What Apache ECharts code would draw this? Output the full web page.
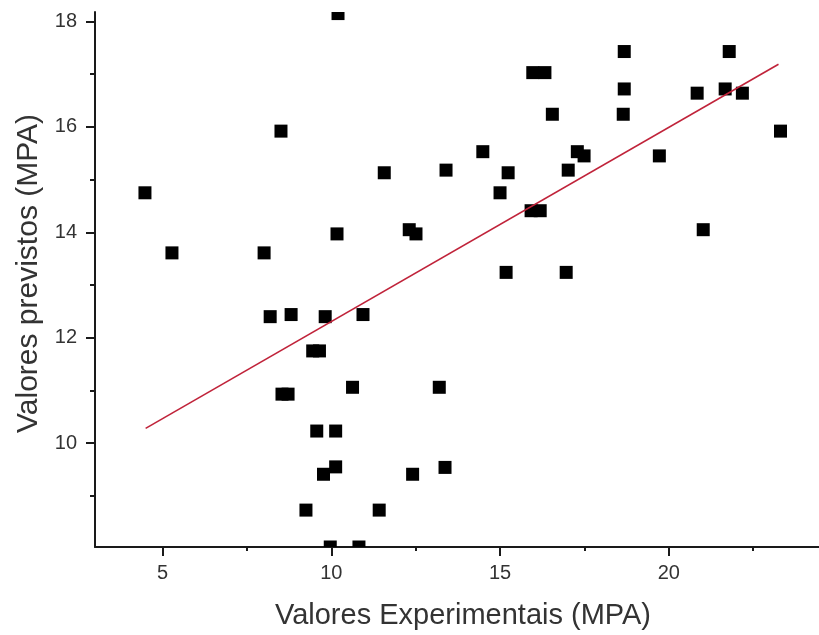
<!DOCTYPE html>
<meta charset="utf-8">
<style>
html, body { margin: 0; padding: 0; background: #fff; }
#container { width: 819px; height: 635px; }
</style>
<body>
<div id="container"></div>
<script src="https://cdn.jsdelivr.net/npm/echarts@6/dist/echarts.min.js"></script>
<script>

var expX = [4.48, 5.28, 8.01, 8.51, 10.17, 11.57, 10.2, 8.19, 8.81, 9.82, 10.94,
  9.45, 9.65, 10.63, 8.54, 8.72, 9.57, 10.13, 10.13, 9.77, 12.41, 9.25, 11.42,
  9.97, 10.82, 13.2, 13.37, 12.31, 12.51, 13.4, 14.49, 15.0, 15.24, 15.92, 16.19,
  15.18, 16.96, 17.02, 17.29, 17.49, 19.72, 16.55, 18.65, 18.68, 15.97, 16.33,
  18.68, 20.84, 21.67, 22.18, 21.79, 23.31, 21.02];
var prevY = [14.75, 13.61, 13.61, 15.92, 13.97, 15.13, 18.15, 12.40, 12.44, 12.40, 12.44,
  11.75, 11.75, 11.06, 10.93, 10.93, 10.23, 10.23, 9.55, 9.41, 9.41, 8.73, 8.73,
  8.03, 8.03, 11.06, 9.54, 14.05, 13.97, 15.18, 15.53, 14.75, 15.13, 14.41, 14.41,
  13.24, 13.24, 15.18, 15.53, 15.45, 15.45, 16.24, 16.24, 16.72, 17.03, 17.03,
  17.43, 16.64, 16.72, 16.64, 17.43, 15.92, 14.05];

// fitted line end points
var fitX = [4.5, 23.25];
var fitY = [10.28, 17.19];

var xMajor = [5, 10, 15, 20];
var xMinor = [7.5, 12.5, 17.5, 22.5];
var yMajor = [10, 12, 14, 16, 18];
var yMinor = [9, 11, 13, 15, 17];

var points = expX.map(function (x, i) { return [x, prevY[i]]; });
var fitLine = fitX.map(function (x, i) { return [x, fitY[i]]; });

var markerSize = 13;
var font = '"Liberation Sans", Arial, sans-serif';
var lineColor = '#1a1a1a';

function axisBase(min, max) {
  return {
    type: 'value',
    min: min,
    max: max,
    splitLine: { show: false },
    axisLine: { show: true, onZero: false, lineStyle: { color: lineColor, width: 2 } }
  };
}

var xMain = axisBase(3, 24.45);
xMain.position = 'bottom';
xMain.name = 'Valores Experimentais (MPA)';
xMain.nameLocation = 'middle';
xMain.nameGap = 54;
xMain.nameTextStyle = { fontFamily: font, fontSize: 29, color: '#333', padding: [0, 0, 0, 12] };
xMain.axisTick = { show: true, inside: false, length: 9, customValues: xMajor,
  lineStyle: { color: lineColor, width: 2 } };
xMain.axisLabel = { customValues: xMajor, margin: 16, fontFamily: font, fontSize: 20, color: '#333' };

var xSub = axisBase(3, 24.45);
xSub.position = 'bottom';
xSub.axisLine = { show: false, onZero: false };
xSub.axisLabel = { show: false };
xSub.axisTick = { show: true, length: 4, customValues: xMinor,
  lineStyle: { color: lineColor, width: 2 } };

var yMain = axisBase(8.03, 18.18);
yMain.position = 'left';
yMain.name = 'Valores previstos (MPA)';
yMain.nameLocation = 'middle';
yMain.nameRotate = 90;
yMain.nameGap = 50;
yMain.nameTextStyle = { fontFamily: font, fontSize: 30, color: '#333', padding: [0, 0, 0, 12] };
yMain.axisTick = { show: true, length: 9, customValues: yMajor,
  lineStyle: { color: lineColor, width: 2 } };
yMain.axisLabel = { customValues: yMajor, margin: 18, fontFamily: font, fontSize: 20, color: '#333' };

var ySub = axisBase(8.03, 18.18);
ySub.position = 'left';
ySub.axisLine = { show: false, onZero: false };
ySub.axisLabel = { show: false };
ySub.axisTick = { show: true, length: 5, customValues: yMinor,
  lineStyle: { color: lineColor, width: 2 } };

var chart = echarts.init(document.getElementById('container'), null, { renderer: 'canvas' });

var option = {
  backgroundColor: '#fff',
  animation: false,
  grid: { left: 95, right: 0, top: 12, bottom: 87, containLabel: false },
  xAxis: [xMain, xSub],
  yAxis: [yMain, ySub],
  series: [
    {
      // squares clipped to the plot area like the original
      type: 'custom',
      xAxisIndex: 0,
      yAxisIndex: 0,
      data: points,
      renderItem: function (params, api) {
        var p = api.coord([api.value(0), api.value(1)]);
        var s = markerSize;
        var rect = echarts.graphic.clipRectByRect(
          { x: p[0] - s / 2, y: p[1] - s / 2, width: s, height: s },
          { x: params.coordSys.x, y: params.coordSys.y,
            width: params.coordSys.width, height: params.coordSys.height });
        return rect && { type: 'rect', shape: rect, style: { fill: '#000' } };
      }
    },
    {
      type: 'line',
      data: fitLine,
      symbol: 'none',
      z: 3,
      lineStyle: { color: '#c0233a', width: 1.6 }
    }
  ]
};

chart.setOption(option);
</script>
</body>
